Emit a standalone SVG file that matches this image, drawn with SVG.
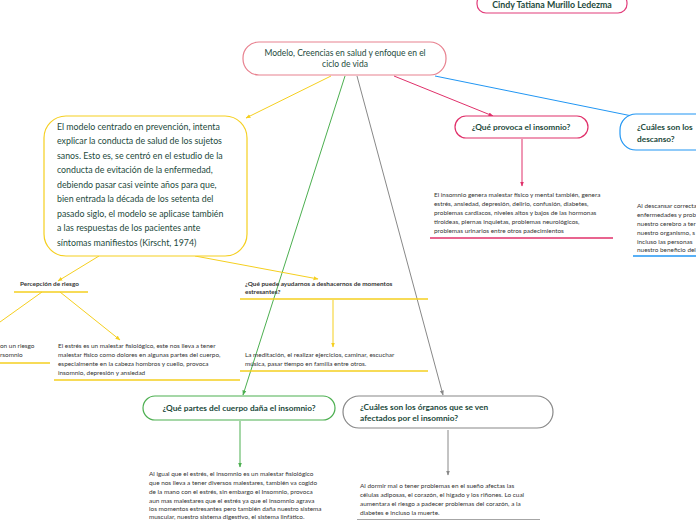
<svg xmlns="http://www.w3.org/2000/svg" width="696" height="520" viewBox="0 0 696 520">
<defs>
<style>
.t{font-family:Lato,"Open Sans",sans-serif;fill:#1d4a3c}
.b{font-weight:bold}
.s{font-family:Lato,"Open Sans",sans-serif;fill:#333;font-size:6.4px}
.c{fill:none;stroke-width:1}
</style>
<marker id="my" viewBox="0 0 10 10" refX="9" refY="5" markerWidth="5" markerHeight="5" orient="auto"><path d="M0,1 L10,5 L0,9 z" fill="#f5cf1f"/></marker>
<marker id="mg" viewBox="0 0 10 10" refX="9" refY="5" markerWidth="5" markerHeight="5" orient="auto"><path d="M0,1 L10,5 L0,9 z" fill="#4caf50"/></marker>
<marker id="mk" viewBox="0 0 10 10" refX="9" refY="5" markerWidth="5" markerHeight="5" orient="auto"><path d="M0,1 L10,5 L0,9 z" fill="#888"/></marker>
<marker id="mp" viewBox="0 0 10 10" refX="9" refY="5" markerWidth="5" markerHeight="5" orient="auto"><path d="M0,1 L10,5 L0,9 z" fill="#e0306a"/></marker>
<marker id="mb" viewBox="0 0 10 10" refX="9" refY="5" markerWidth="5" markerHeight="5" orient="auto"><path d="M0,1 L10,5 L0,9 z" fill="#2196f3"/></marker>
</defs>
<rect width="696" height="520" fill="#fff"/>
<g id="connectors">
<line class="c" x1="331" y1="76" x2="246" y2="118" stroke="#f5cf1f" marker-end="url(#my)"/>
<line class="c" x1="345" y1="76" x2="243" y2="395" stroke="#4caf50" marker-end="url(#mg)"/>
<line class="c" x1="357" y1="76" x2="443" y2="395" stroke="#888" marker-end="url(#mk)"/>
<line class="c" x1="394" y1="76" x2="493" y2="116" stroke="#e0306a" marker-end="url(#mp)"/>
<line class="c" x1="435" y1="76" x2="637" y2="117" stroke="#2196f3" marker-end="url(#mb)"/>
<line class="c" x1="522" y1="139" x2="522" y2="186" stroke="#e0306a" marker-end="url(#mp)"/>
<line class="c" x1="99" y1="256" x2="58" y2="281" stroke="#f5cf1f" marker-end="url(#my)"/>
<line class="c" x1="195" y1="256" x2="318" y2="279" stroke="#f5cf1f" marker-end="url(#my)"/>
<line class="c" x1="42" y1="292" x2="0" y2="322" stroke="#f5cf1f"/>
<line class="c" x1="60" y1="292" x2="120" y2="340" stroke="#f5cf1f" marker-end="url(#my)"/>
<line class="c" x1="333" y1="300" x2="333" y2="347" stroke="#f5cf1f" marker-end="url(#my)"/>
<line class="c" x1="240" y1="421" x2="240" y2="467" stroke="#4caf50" marker-end="url(#mg)"/>
<line class="c" x1="448" y1="430" x2="448" y2="475" stroke="#888" marker-end="url(#mk)"/>
</g>
<g id="author">
<rect x="477" y="-6" width="150" height="19" rx="9" fill="#fff" stroke="#e23c7a" stroke-width="1.2"/>
<text class="t b" x="552" y="8" font-size="8.8" text-anchor="middle">Cindy Tatiana Murillo Ledezma</text>
</g>
<g id="main">
<rect x="243" y="42" width="203" height="33" rx="16" fill="#fff" stroke="#e8818f" stroke-width="1.2"/>
<text class="t" x="345" y="56" font-size="8.5" text-anchor="middle">Modelo, Creencias en salud y enfoque en el</text>
<text class="t" x="345" y="67" font-size="8.5" text-anchor="middle">ciclo de vida</text>
</g>
<g id="modelo">
<rect x="44" y="116" width="203" height="140" rx="22" fill="#fff" stroke="#f5cf1f" stroke-width="1.2"/>
<text class="t" font-size="8.8">
<tspan x="57" y="129.5">El modelo centrado en  prevención, intenta</tspan>
<tspan x="57" y="144"> explicar la conducta de salud de los sujetos</tspan>
<tspan x="57" y="158.5">sanos. Esto es, se centró en el estudio de la</tspan>
<tspan x="57" y="173">conducta de evitación de la enfermedad,</tspan>
<tspan x="57" y="187.5">debiendo pasar casi veinte años para que,</tspan>
<tspan x="57" y="202">bien entrada la década de los setenta del</tspan>
<tspan x="57" y="216.5">pasado siglo, el modelo se aplicase también</tspan>
<tspan x="57" y="231"> a las respuestas de los pacientes ante</tspan>
<tspan x="57" y="245.5">síntomas manifiestos (Kirscht, 1974)</tspan>
</text>
</g>
<g id="provoca">
<rect x="455" y="116" width="133" height="22" rx="11" fill="#fff" stroke="#e0306a" stroke-width="1.2"/>
<text class="t b" x="521" y="130" font-size="8.3" text-anchor="middle">¿Qué provoca el insomnio?</text>
</g>
<g id="provoca-texto">
<text class="s"><tspan x="434" y="197">El insomnio genera malestar físico y mental también, genera</tspan><tspan x="434" y="206">estrés, ansiedad, depresión, delirio, confusión, diabetes,</tspan><tspan x="434" y="215">problemas cardiacos, niveles altos y bajos de las hormonas</tspan><tspan x="434" y="224">tiroideas,  piernas inquietas, problemas neurológicos,</tspan><tspan x="434" y="233">problemas urinarios entre otros padecimientos</tspan></text>
<line x1="430" y1="238" x2="613" y2="238" stroke="#e0306a" stroke-width="1.5"/>
</g>
<g id="descanso">
<rect x="620" y="114" width="100" height="36" rx="16" fill="#fff" stroke="#2196f3" stroke-width="1.2"/>
<text class="t b" font-size="8.3"><tspan x="637" y="130">¿Cuáles son los</tspan><tspan x="637" y="142">descanso?</tspan></text>
</g>
<g id="descanso-texto">
<text class="s"><tspan x="637" y="208">Al descansar correcta</tspan><tspan x="637" y="217">enfermedades y prob</tspan><tspan x="637" y="226">nuestro cerebro a ter</tspan><tspan x="637" y="235">nuestro organismo, s</tspan><tspan x="637" y="244">incluso las personas</tspan><tspan x="637" y="252">nuestro beneficio del</tspan></text>
<line x1="633" y1="256" x2="696" y2="256" stroke="#2196f3" stroke-width="1.5"/>
</g>
<g id="percepcion">
<text class="s b" x="20" y="286" fill="#222">Percepción de riesgo</text>
<line x1="14" y1="292" x2="88" y2="292" stroke="#f5cf1f" stroke-width="1.5"/>
</g>
<g id="riesgo-texto">
<text class="s"><tspan x="0" y="348">on un riesgo</tspan><tspan x="0" y="357">rsomnio</tspan></text>
<line x1="0" y1="363" x2="50" y2="363" stroke="#f5cf1f" stroke-width="1.5"/>
</g>
<g id="estres-texto">
<text class="s"><tspan x="58" y="348">El estrés es un malestar fisiológico, este nos lleva a tener</tspan><tspan x="58" y="357">malestar físico  como dolores en algunas partes del cuerpo,</tspan><tspan x="58" y="366">especialmente en la cabeza hombros y cuello, provoca</tspan><tspan x="58" y="375">insomnio, depresión y ansiedad</tspan></text>
<line x1="54" y1="380" x2="240" y2="380" stroke="#f5cf1f" stroke-width="1.5"/>
</g>
<g id="ayudarnos">
<text class="s b" fill="#222"><tspan x="245" y="286">¿Qué puede ayudarnos a deshacernos de momentos</tspan><tspan x="245" y="294">estresantes?</tspan></text>
<line x1="240" y1="299" x2="428" y2="299" stroke="#f5cf1f" stroke-width="1.5"/>
</g>
<g id="meditacion">
<text class="s"><tspan x="245" y="357">La meditación,  el realizar ejercicios, caminar, escuchar</tspan><tspan x="245" y="366">música, pasar tiempo en familia entre otros.</tspan></text>
<line x1="240" y1="371" x2="428" y2="371" stroke="#f5cf1f" stroke-width="1.5"/>
</g>
<g id="partes">
<rect x="143" y="396" width="192" height="24" rx="12" fill="#fff" stroke="#4caf50" stroke-width="1.2"/>
<text class="t b" x="239" y="411" font-size="8.3" text-anchor="middle">¿Qué partes del cuerpo daña el insomnio?</text>
</g>
<g id="partes-texto">
<text class="s"><tspan x="149" y="476">Al igual que el estrés, el insomnio es un malestar fisiológico</tspan><tspan x="149" y="485">que nos lleva a tener diversos malestares, también va cogido</tspan><tspan x="149" y="494">de la mano con el estrés, sin embargo el Insomnio, provoca</tspan><tspan x="149" y="503">aun mas malestares que el estrés ya que el insomnio agrava</tspan><tspan x="149" y="511">los momentos estresantes pero también daña nuestro sistema</tspan><tspan x="149" y="518.5">muscular, nuestro sistema digestivo, el sistema linfático.</tspan></text>
</g>
<g id="organos">
<rect x="343" y="396" width="210" height="32" rx="16" fill="#fff" stroke="#888" stroke-width="1.2"/>
<text class="t b" font-size="8.3"><tspan x="360" y="410">¿Cuáles son los órganos que se ven</tspan><tspan x="360" y="421">afectados por el insomnio?</tspan></text>
</g>
<g id="organos-texto">
<text class="s"><tspan x="360" y="488">Al dormir mal o tener problemas en el sueño afectas las</tspan><tspan x="360" y="497">células adiposas, el corazón, el hígado y los riñones.  Lo cual</tspan><tspan x="360" y="506">aumentara el riesgo a padecer problemas del corazón, a la</tspan><tspan x="360" y="515">diabetes e incluso la muerte.</tspan></text>
<line x1="357" y1="520" x2="540" y2="520" stroke="#888" stroke-width="1.5"/>
</g>
</svg>
